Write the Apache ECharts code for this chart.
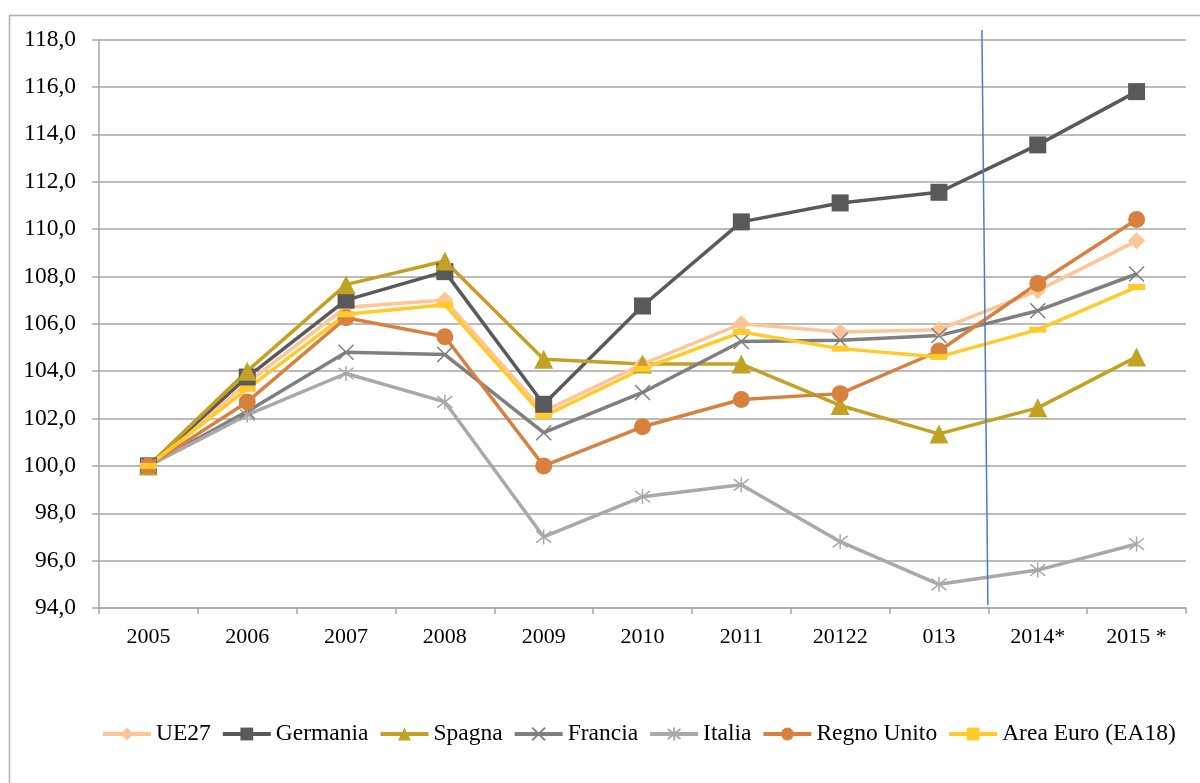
<!DOCTYPE html>
<html>
<head>
<meta charset="utf-8">
<script src="https://cdn.jsdelivr.net/npm/echarts@6/dist/echarts.min.js"></script>
<style>
  html, body { margin: 0; padding: 0; background: #fff; }
  #main { width: 1200px; height: 783px; }
</style>
</head>
<body>
<div id="main"></div>
<script>
// categorie (etichette come appaiono nel grafico)
var anni = ['2005', '2006', '2007', '2008', '2009', '2010', '2011', '20122', '013', '2014*', '2015 *'];

// valori delle serie (indice 2005 = 100)
var ue27       = [100, 103.5, 106.7, 107.0, 102.3, 104.3, 106.0, 105.65, 105.75, 107.4, 109.5];
var germania   = [100, 103.75, 107.0, 108.2, 102.6, 106.75, 110.3, 111.1, 111.55, 113.55, 115.8];
var spagna     = [100, 104.0, 107.65, 108.65, 104.5, 104.3, 104.3, 102.55, 101.35, 102.45, 104.6];
var francia    = [100, 102.3, 104.8, 104.7, 101.4, 103.1, 105.25, 105.3, 105.5, 106.55, 108.1];
var italia     = [100, 102.15, 103.9, 102.7, 97.0, 98.7, 99.2, 96.8, 95.0, 95.6, 96.7];
var regnoUnito = [100, 102.7, 106.25, 105.45, 100.0, 101.65, 102.8, 103.05, 104.85, 107.7, 110.4];
var areaEuro   = [100, 103.25, 106.4, 106.8, 102.1, 104.1, 105.65, 104.95, 104.6, 105.75, 107.55];

var yMin = 94, yMax = 118, yStep = 2;
var separatore = 0.465; // linea verticale tra 2013 e 2014 (frazione tra le due categorie)

var font = '"Liberation Serif", "DejaVu Serif", serif';
var pathX = 'path://M0,0L10,10M10,0L0,10';
var pathAst = 'path://M0,0L10,10M10,0L0,10M5,-1.5L5,11.5';

function serie(nome, dati, colore, simbolo, dim, bordo) {
    return {
        name: nome,
        type: 'line',
        data: dati,
        symbol: simbolo,
        symbolSize: dim,
        showAllSymbol: true,
        lineStyle: { color: colore, width: 3.5 },
        itemStyle: { color: colore, borderColor: colore, borderWidth: bordo || 0 },
        emphasis: { disabled: true },
        z: 2
    };
}

var chart = echarts.init(document.getElementById('main'));
var option = {
    animation: false,
    backgroundColor: '#fff',
    textStyle: { fontFamily: font },
    grid: { left: 99, right: 14, top: 39.5, bottom: 175 },
    legend: {
        left: 96,
        top: 717,
        itemWidth: 48,
        itemHeight: 16,
        itemGap: 10,
        lineStyle: { width: 4 },
        textStyle: { fontFamily: font, fontSize: 23.5, color: '#000' },
        data: ['UE27', 'Germania', 'Spagna', 'Francia', 'Italia', 'Regno Unito', 'Area Euro (EA18)']
    },
    xAxis: {
        type: 'category',
        data: anni,
        boundaryGap: true,
        axisLine: { lineStyle: { color: '#a6a6a6', width: 1.5 } },
        axisTick: { show: true, length: 6, lineStyle: { color: '#a6a6a6', width: 1.5 } },
        axisLabel: { color: '#000', fontFamily: font, fontSize: 22, margin: 18 },
        splitLine: { show: false }
    },
    yAxis: {
        type: 'value',
        min: yMin,
        max: yMax,
        interval: yStep,
        axisLine: { show: true, lineStyle: { color: '#a6a6a6', width: 1.5 } },
        axisTick: { show: true, length: 7, lineStyle: { color: '#a6a6a6', width: 1.5 } },
        axisLabel: {
            color: '#000', fontFamily: font, fontSize: 23.5, margin: 23,
            formatter: function (v) { return v.toFixed(1).replace('.', ','); }
        },
        splitLine: { lineStyle: { color: '#a6a6a6', width: 1.5 } }
    },
    series: [
        serie('UE27', ue27, '#ffc596', 'diamond', 17),
        serie('Germania', germania, '#595959', 'rect', 17),
        serie('Spagna', spagna, '#c3a122', 'triangle', 19),
        serie('Francia', francia, '#7f7f7f', pathX, 15, 1.5),
        serie('Italia', italia, '#a9a9a9', pathAst, 15, 1.5),
        serie('Regno Unito', regnoUnito, '#d8813f', 'circle', 17),
        serie('Area Euro (EA18)', areaEuro, '#ffca2a', 'rect', [17, 6])
    ]
};
chart.setOption(option);

// bordo dell'area del grafico e linea verticale di separazione
var p8 = chart.convertToPixel({ xAxisIndex: 0 }, 8);
var p9 = chart.convertToPixel({ xAxisIndex: 0 }, 9);
var xSep = p8 + separatore * (p9 - p8);
chart.setOption({
    graphic: [
        {
            type: 'polyline',
            shape: { points: [[9.5, 790], [9.5, 15.5], [1205, 15.5]] },
            style: { stroke: '#b0b0b0', lineWidth: 1.5, fill: null },
            silent: true
        },
        {
            type: 'line',
            shape: { x1: xSep - 3, y1: 30, x2: xSep + 3, y2: 605 },
            style: { stroke: '#4a7dc6', lineWidth: 1.5 },
            z: 10,
            silent: true
        }
    ]
});
</script>
</body>
</html>
